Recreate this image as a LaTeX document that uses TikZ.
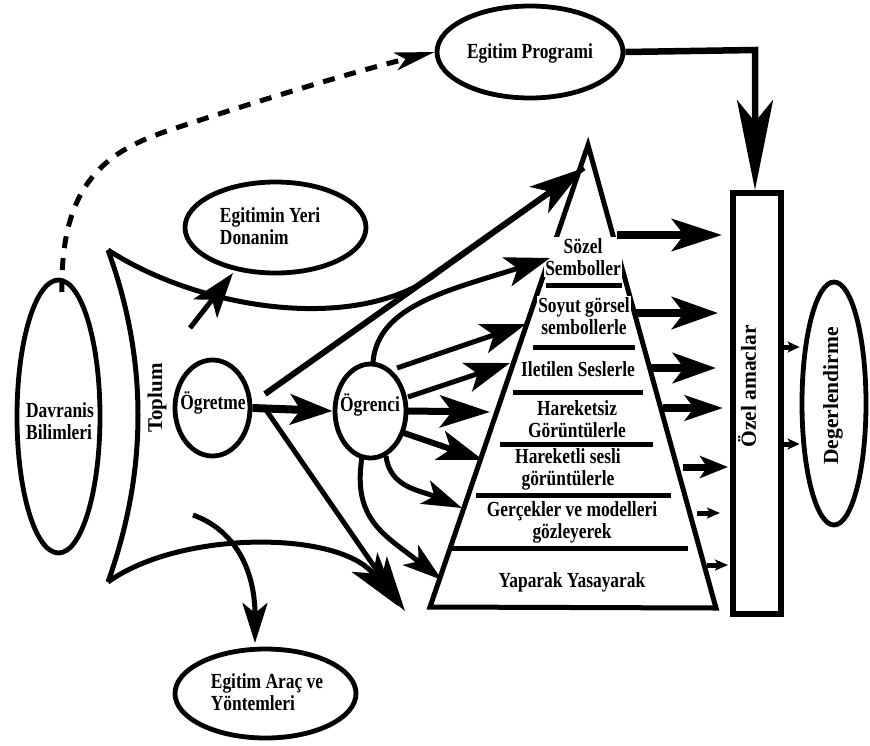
\documentclass[tikz,border=0pt]{standalone}
\usepackage{fontspec}
\usetikzlibrary{arrows.meta,shapes.geometric}
\newfontfamily\lblfont{Liberation Serif}[FakeStretch=0.81]
\newfontfamily\rotfont{Liberation Serif}
\begin{document}
\begin{tikzpicture}[x=1pt,y=-1pt,
  lbl/.style={font={\lblfont\bfseries\fontsize{21.5}{22}\selectfont}, align=center, inner sep=1pt},
  lblw/.style={lbl, fill=white},
  rlbl/.style={font={\rotfont\bfseries\fontsize{21.5}{22}\selectfont}, rotate=90, inner sep=0pt},
  oval/.style={draw, ellipse, line width=4.8pt, inner sep=0pt},
  ln/.style={line width=5pt},
  big/.style={-{Stealth[length=55pt,width=32pt,inset=14pt]}},
  mid/.style={-{Stealth[length=45pt,width=30pt,inset=11pt]}},
  sml/.style={-{Stealth[length=40pt,width=25pt,inset=10pt]}},
  tiny/.style={-{Stealth[length=13pt,width=11pt,inset=3pt]}}
]
\useasboundingbox (0,0) rectangle (870,745);

% ---- ovals and their labels ----
\node[oval, minimum width=186, minimum height=92] (prog) at (530,52) {};
\node[lbl] (prog-t) at (530,53) {Egitim Programi};

\node[oval, minimum width=181, minimum height=91] (yeri) at (275.5,227.5) {};
\node[lbl, align=left] (yeri-t) at (270,226) {Egitimin Yeri\\Donanim};

\node[oval, minimum width=181, minimum height=89] (arac) at (265.5,693.5) {};
\node[lbl, align=left] (arac-t) at (267,692) {Egitim Araç ve\\Yöntemleri};

\node[oval, minimum width=83, minimum height=273] (davr) at (58.5,416.5) {};
\node[lbl, align=left] (davr-t) at (60,421) {Davranis\\Bilimleri};

\node[oval, minimum width=75, minimum height=96] (ogretme) at (212.5,408) {};
\node[lbl] (ogretme-t) at (213,403) {Ögretme};

\node[oval, minimum width=71, minimum height=94] (ogrenci) at (370.5,411) {};
\node[lbl] (ogrenci-t) at (370,405) {Ögrenci};

\node[oval, minimum width=64, minimum height=243] (deger) at (834,403.5) {};
\node[rlbl] (deger-t) at (833,396) {Degerlendirme};

% ---- objectives column ----
\node[draw, line width=6pt, minimum width=48, minimum height=420.5, inner sep=0pt] (ozel) at (756.5,403.25) {};
\node[rlbl] (ozel-t) at (747,386.5) {Özel amaclar};

% ---- society region ----
\coordinate (tl) at (108,250);
\coordinate (bl) at (108,582);
\coordinate (apex) at (588,145);
\coordinate (apexin) at (584,168);
\coordinate (pbl) at (430,607);
\coordinate (pbr) at (716,608);
\draw[ln] (tl) .. controls (148,360) and (148,470) .. (bl);
\draw[ln] (tl) .. controls (200,310) and (360,335) .. (440,271) -- (apexin);
\node[rlbl, font={\rotfont\bfseries\fontsize{21}{22}\selectfont}] (toplum) at (157,398) {Toplum};

% ---- pyramid ----
\draw[ln, line join=miter] (apex) -- (pbl) -- (pbr) -- cycle;
\draw[ln] (546,285) -- (622,285);
\draw[ln] (533,347) -- (635,347);
\draw[ln] (513,392) -- (643,392);
\draw[ln] (500,444) -- (653,444);
\draw[ln] (476,495) -- (671,495);
\draw[ln] (452,548) -- (688,548);

\node[lblw] (l1) at (583,257) {Sözel\\Semboller};
\node[lblw] (l2) at (584,316) {Soyut görsel\\sembollerle};
\node[lblw] (l3) at (578,369) {Iletilen Seslerle};
\node[lblw] (l4) at (577,419) {Hareketsiz\\Görüntülerle};
\node[lblw] (l5) at (568,469) {Hareketli sesli\\görüntülerle};
\node[lblw] (l6) at (572,522) {Gerçekler ve modelleri\\gözleyerek};
\node[lbl] (l7) at (572,582) {Yaparak Yasayarak};

% ---- dashed link to the programme ----
\draw[line width=5pt, dash pattern=on 12pt off 10pt, -{Stealth[length=40pt,width=18pt,inset=10pt]}]
  (62,292) .. controls (60,180) and (110,150) .. (170,130)
  .. controls (260,100) and (360,70) .. (prog.west);

% ---- programme to objectives ----
\coordinate (pc) at (755,50);
\draw[line width=6.5pt, line join=miter, -{Stealth[length=90pt,width=36pt,inset=22pt]}]
  (prog.east) -- (pc) -- (pc |- ozel.north);

% ---- teacher connections ----
\draw[line width=8pt, -{Stealth[length=42pt,width=30pt,inset=10pt]}] (ogretme.east) -- (ogrenci.west);
\draw[line width=6pt, big] (265,394) -- (apexin);
\draw[ln, big] (264,407) -- (405,611);
\draw[ln, big] (bl) .. controls (180,530) and (340,530) .. (398,606);
\draw[ln, mid] (190,328) -- (233,273);
\draw[ln, sml] (193,515) .. controls (235,530) and (255,570) .. (255,643);

% ---- learner to the pyramid levels ----
\draw[ln, mid] (373,362) .. controls (378,305) and (450,290) .. (550,258);
\draw[ln, mid] (397,368) -- (526,324);
\draw[ln, mid] (408,397) -- (510,363);
\draw[line width=7pt, -{Stealth[length=50pt,width=32pt,inset=12pt]}] (408,411) -- (490,412);
\draw[line width=6pt, mid] (404,433) -- (483,460);
\draw[ln, sml] (386,456) .. controls (390,488) and (420,490) .. (462,508);
\draw[ln, sml] (362,457) .. controls (352,520) and (385,535) .. (442,580);

% ---- levels to objectives ----
\draw[line width=8pt, -{Stealth[length=50pt,width=32pt,inset=12pt]}] (617,235) -- (722,235);
\draw[line width=8pt, -{Stealth[length=46pt,width=32pt,inset=12pt]}] (634,313) -- (718,313);
\draw[line width=8pt, -{Stealth[length=43pt,width=30pt,inset=11pt]}] (650,368) -- (716,368);
\draw[line width=8pt, -{Stealth[length=38pt,width=25pt,inset=9pt]}] (663,408) -- (723,408);
\draw[line width=7pt, -{Stealth[length=28pt,width=22pt,inset=7pt]}] (683,467) -- (728,467);
\draw[line width=5pt, tiny] (697,513) -- (720,513);
\draw[line width=5pt, tiny] (707,565) -- (728,565);

% ---- objectives to evaluation ----
\draw[line width=5pt, -{Stealth[length=12pt,width=11pt,inset=3pt]}] (783,347) -- (deger.west |- 0,347);
\draw[line width=5pt, -{Stealth[length=12pt,width=11pt,inset=3pt]}] (783,444) -- (deger.west |- 0,444);
\end{tikzpicture}
\end{document}
